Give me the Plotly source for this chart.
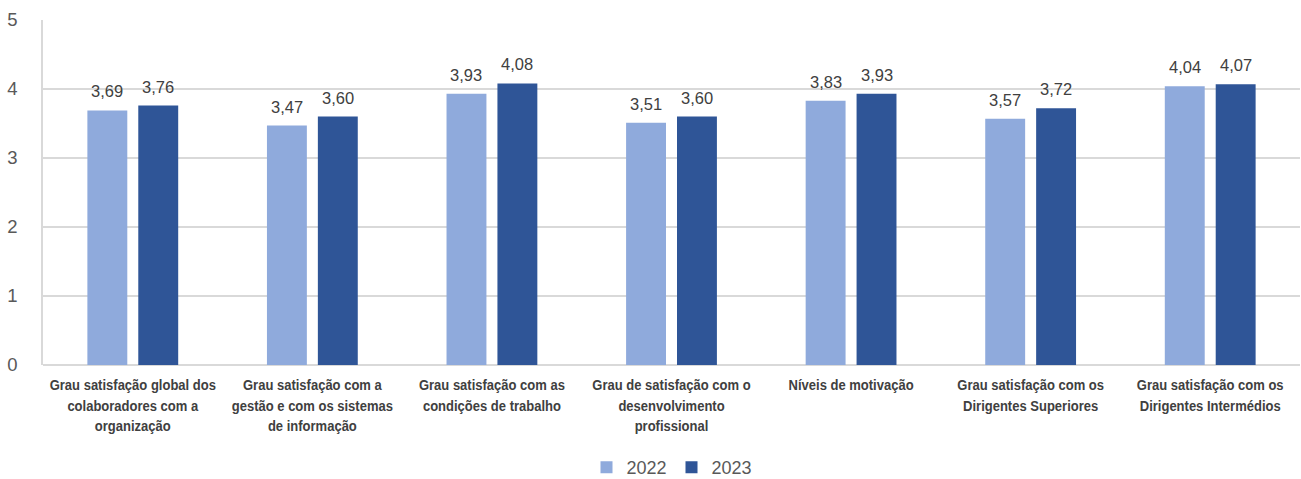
import plotly.graph_objects as go

categories = [
    "Grau satisfação global dos<br>colaboradores com a<br>organização",
    "Grau satisfação com a<br>gestão e com os sistemas<br>de informação",
    "Grau satisfação com as<br>condições de trabalho",
    "Grau de satisfação com o<br>desenvolvimento<br>profissional",
    "Níveis de motivação",
    "Grau satisfação com os<br>Dirigentes Superiores",
    "Grau satisfação com os<br>Dirigentes Intermédios",
]
values_2022 = [3.69, 3.47, 3.93, 3.51, 3.83, 3.57, 4.04]
values_2023 = [3.76, 3.60, 4.08, 3.60, 3.93, 3.72, 4.07]
series_names = ["2022", "2023"]
y_ticks = [0, 1, 2, 3, 4, 5]

colors = ["#8FAADC", "#2F5597"]
label_color = "#404040"
axis_text_color = "#595959"

fig = go.Figure()
for name, vals, col in zip(series_names, [values_2022, values_2023], colors):
    fig.add_trace(go.Bar(
        x=categories, y=vals, name=name,
        marker=dict(color=col, line=dict(width=0)),
        hoverinfo="skip",
    ))

# value labels above each bar, shifted to the bar's slot within the group
offsets = [-25.5, 25.5]
for vals, dx in zip([values_2022, values_2023], offsets):
    for cat, v in zip(categories, vals):
        fig.add_annotation(
            x=cat, y=v, xref="x", yref="y",
            text=f"{v:.2f}".replace(".", ","),
            showarrow=False, xshift=dx, yshift=8,
            yanchor="bottom", xanchor="center",
            font=dict(family="Liberation Sans, Arial", size=16.5, color=label_color),
        )

fig.update_layout(
    width=1301, height=479,
    margin=dict(l=43, r=1, t=20, b=114, autoexpand=False),
    paper_bgcolor="white", plot_bgcolor="white",
    barmode="group", bargap=0.433, bargroupgap=0.216,
    showlegend=True,
    legend=dict(
        orientation="h", x=0.5, xanchor="center", xref="paper",
        y=0.024, yref="container", yanchor="middle",
        font=dict(family="Liberation Sans, Arial", size=18, color=axis_text_color),
        itemwidth=30, entrywidth=40, traceorder="normal",
    ),
    font=dict(family="Liberation Sans, Arial", color=axis_text_color),
)
fig.update_xaxes(
    tickfont=dict(family="Liberation Sans, Arial", size=15.5,
                  color=label_color, weight="bold"),
    tickangle=0, automargin=False, ticklabelstandoff=9,
    showline=False, showgrid=False, ticks="", fixedrange=True,
)
fig.update_yaxes(
    range=[0, 5], tickvals=y_ticks, automargin=False,
    tickfont=dict(family="Liberation Sans, Arial", size=18.5, color=axis_text_color),
    showgrid=True, gridcolor="#D9D9D9", gridwidth=1.5,
    zeroline=True, zerolinecolor="#D9D9D9", zerolinewidth=1.5,
    showline=True, linecolor="#D9D9D9", linewidth=1.5,
    ticks="", ticklabelstandoff=20, fixedrange=True,
)

# condense the category labels horizontally (narrow bold face)
condense_js = """
var gd = document.getElementsByClassName('plotly-graph-div')[0];
function condense() {
  gd.querySelectorAll('.xtick text').forEach(function(t) {
    var tr = t.getAttribute('transform') || '';
    if (tr.indexOf('scale') === -1) {
      t.setAttribute('transform', tr + ' scale(0.84,1)');
    }
  });
}
condense();
gd.on('plotly_afterplot', condense);
"""

fig.write_html("out.html", post_script=condense_js)
